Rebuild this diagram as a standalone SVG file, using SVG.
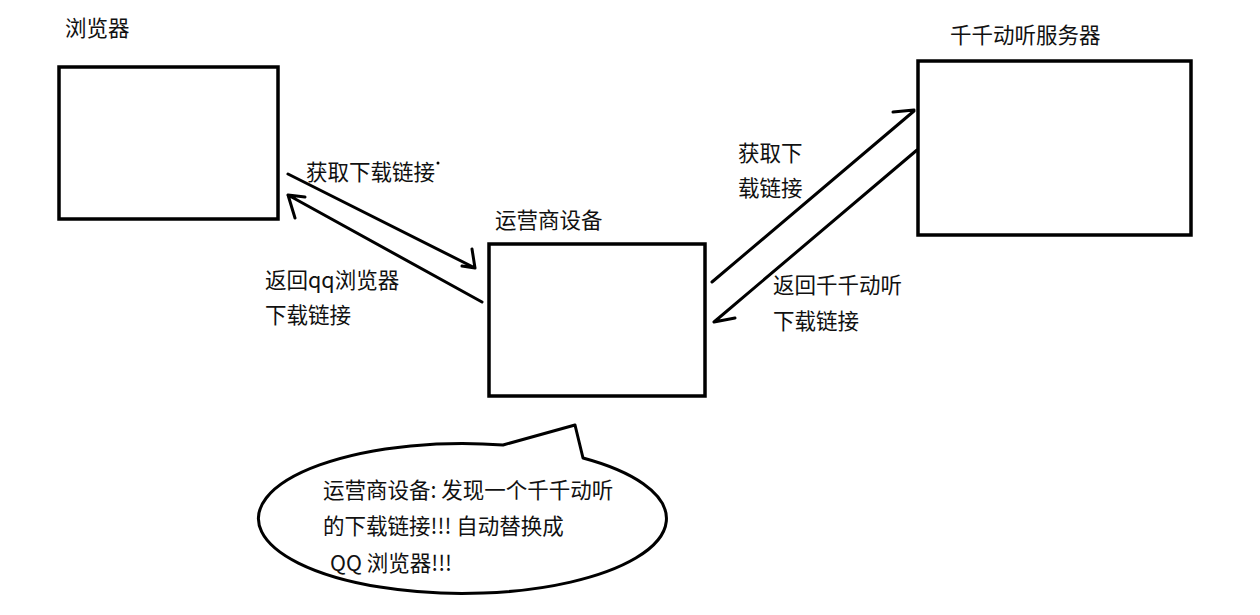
<svg xmlns="http://www.w3.org/2000/svg" width="1260" height="615" viewBox="0 0 1260 615">
<style>
.box{fill:none;stroke:#000;stroke-width:3.5}
.ln{fill:none;stroke:#000;stroke-width:3;stroke-linecap:round;stroke-linejoin:round}
text{font-family:"Microsoft YaHei","Noto Sans CJK SC",sans-serif;font-size:21.5px;fill:#111}
</style>
<rect width="1260" height="615" fill="#fff"/>
<g id="browser">
<rect class="box" x="59" y="67" width="219" height="152"/>
<text x="65" y="36">浏览器</text>
</g>
<g id="operator">
<rect class="box" x="489" y="244" width="216" height="152"/>
<text x="495" y="228">运营商设备</text>
</g>
<g id="server">
<rect class="box" x="918" y="61" width="273" height="174"/>
<text x="950" y="43">千千动听服务器</text>
</g>
<g id="connectors">
<path class="ln" d="M288,174 L475,268 M472,249 L475,268 L462,266"/>
<path class="ln" d="M482,302 L288,195 M295,218 L288,195 L305,197"/>
<path class="ln" d="M712,282 L914,111 M893,112 L914,110"/>
<path class="ln" d="M917,150 L714,322 L735,318"/>
<circle cx="438" cy="163" r="1.5" fill="#000"/>
</g>
<g id="labels">
<text x="306" y="180">获取下载链接</text>
<text x="265" y="288">返回qq浏览器</text>
<text x="265" y="323">下载链接</text>
<text x="738" y="161">获取下</text>
<text x="738" y="196">载链接</text>
<text x="773" y="293">返回千千动听</text>
<text x="773" y="329">下载链接</text>
</g>
<g id="bubble">
<path class="ln" d="M503,445 L575,425 L583,458 A204 75 0 1 1 503,445 Z"/>
<text x="323" y="498">运营商设备: 发现一个千千动听</text>
<text x="323" y="534">的下载链接!!! 自动替换成</text>
<text x="330" y="571">QQ 浏览器!!!</text>
</g>
</svg>
